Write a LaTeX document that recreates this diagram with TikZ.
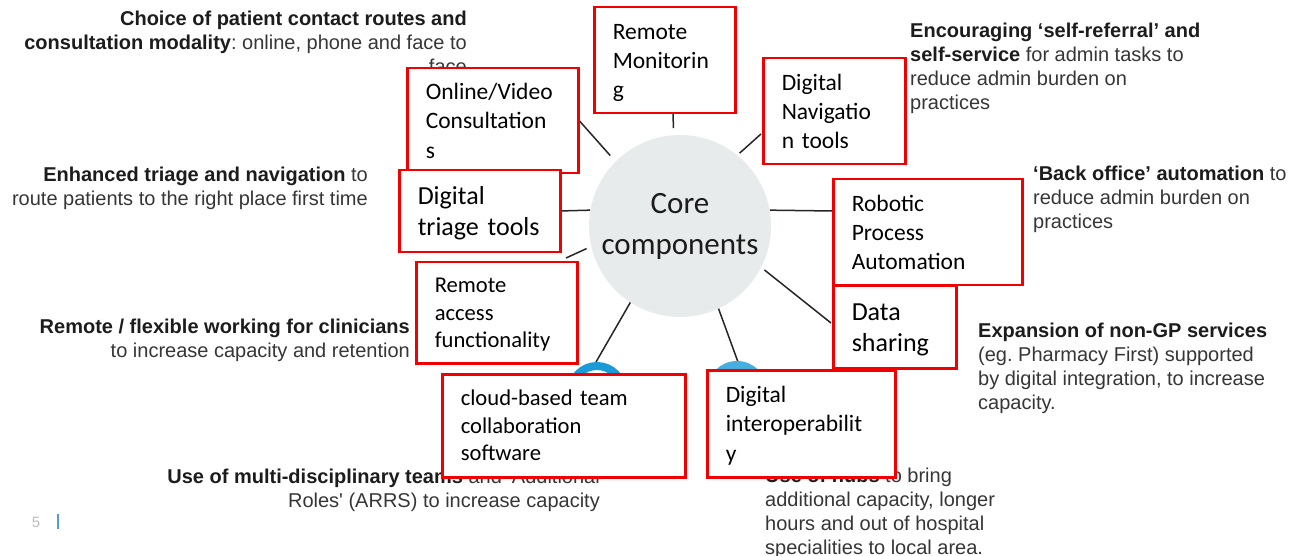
\documentclass[tikz,border=0pt]{standalone}
\usepackage{fontspec}
\setmainfont{Liberation Sans}
\newfontfamily\calibf{Carlito}
\frenchspacing
\definecolor{boxred}{HTML}{F00000}
\definecolor{txtdark}{HTML}{1C1C1C}
\definecolor{txtgrey}{HTML}{363636}
\definecolor{coregrey}{HTML}{E8EBEC}
\definecolor{linegrey}{HTML}{262626}
\definecolor{hubblue}{HTML}{1B9AD6}
\definecolor{hublight}{HTML}{48AEDF}
\definecolor{pagegrey}{HTML}{BDBDBD}
\definecolor{barblue}{HTML}{5B9BD5}
\newcommand\strongtxt[1]{\textcolor{txtdark}{\bfseries #1}}
\newcommand\topstrut{\rule{0pt}{0.86\baselineskip}}
\tikzset{
  side/.style={inner sep=0pt, font=\fontsize{20}{24}\selectfont, text=txtgrey},
  cbox/.style={draw=boxred, line width=2.5pt, fill=white, inner xsep=18.5pt,
    inner ysep=0pt, align=left, anchor=north west, text=black,
    font=\calibf\fontsize{23.5}{29.3}\selectfont},
  bigtxt/.style={font=\calibf\fontsize{26}{31}\selectfont},
  smalltxt/.style={font=\calibf\fontsize{22.6}{27.5}\selectfont},
  conn/.style={draw=linegrey, line width=1.5pt}
}
\begin{document}
\begin{tikzpicture}[x=1pt,y=-1pt]
\useasboundingbox[fill=white] (0,0) rectangle (1291,556);

% side texts (anchor = baseline of the last line)
\node[side, align=right, anchor=base east] (t-choice) at (467,74)
  {\strongtxt{Choice of patient contact routes and}\\\strongtxt{consultation modality}: online, phone and face to\\face};
\node[side, align=right, anchor=base east] (t-triage) at (368,206)
  {\strongtxt{Enhanced triage and navigation} to\\route patients to the right place first time};
\node[side, align=right, anchor=base east] (t-remote) at (410,357)
  {\strongtxt{Remote / flexible working for clinicians}\\to increase capacity and retention};
\node[side, align=right, anchor=base east] (t-mdt) at (600,507)
  {\strongtxt{Use of multi-disciplinary teams} and `Additional\\Roles\textquotesingle{} (ARRS) to increase capacity};
\node[side, align=left, anchor=base west] (t-self) at (910,110)
  {\strongtxt{Encouraging ‘self-referral’ and}\\\strongtxt{self-service} for admin tasks to\\reduce admin burden on\\practices};
\node[side, align=left, anchor=base west] (t-back) at (1033,229)
  {\strongtxt{‘Back office’ automation} to\\reduce admin burden on\\practices};
\node[side, align=left, anchor=base west] (t-exp) at (978,409)
  {\strongtxt{Expansion of non-GP services}\\(eg.\ Pharmacy First) supported\\by digital integration, to increase\\capacity.};
\node[side, align=left, anchor=base west] (t-hubs) at (765,554)
  {\strongtxt{Use of hubs} to bring\\additional capacity, longer\\hours and out of hospital\\specialities to local area.};

% page number
\node[inner sep=0pt, anchor=base, font=\fontsize{15}{18}\selectfont, text=pagegrey] (pg) at (36,527) {5};
\draw[barblue, line width=2pt] (58,514) -- (58,529);

% core circle
\node[circle, fill=coregrey, minimum size=182pt, inner sep=0pt, align=center,
  text=txtdark, font=\calibf\fontsize{31}{41}\selectfont] (core) at (680,226) {Core\\components};

% connector free ends
\coordinate (e-rm) at (673,113);
\coordinate (e-ov) at (576,117);
\coordinate (e-dn) at (761,134);
\coordinate (e-dt) at (559,211);
\coordinate (e-rpa) at (833,211);
\coordinate (e-ra) at (566,258);
\coordinate (e-cl) at (596,362);
\coordinate (e-di) at (738,362);
\coordinate (e-ds) at (831,323);

\draw[conn, shorten <=7pt] (core.94) -- (e-rm);
\draw[conn, shorten <=8pt] (core.135) -- (e-ov);
\draw[conn, shorten <=3pt] (core.51) -- (e-dn);
\draw[conn] (core.170) -- (e-dt);
\draw[conn] (core.10) -- (e-rpa);
\draw[conn, shorten <=5pt] (core.193) -- (e-ra);
\draw[conn] (core.237) -- (e-cl);
\draw[conn] (core.295) -- (e-di);
\draw[conn, shorten <=4pt] (core.333) -- (e-ds);

% hub icons (partly hidden)
\node[circle, draw=hubblue, line width=8pt, minimum size=52pt, inner sep=0pt] (hub1) at (597,392) {};
\node[circle, fill=hublight, minimum size=60pt, inner sep=0pt] (hub2) at (737,391) {};

% red boxes
\node[cbox, text width=104pt, minimum height=106pt] (rm) at (593,6)
  {\mbox{\topstrut Remote}\\\mbox{Monitorin}\\\mbox{g\strut}};
\node[cbox, text width=134pt, minimum height=105pt] (ov) at (406,67)
  {\mbox{\topstrut Online/Video}\\\mbox{Consultation}\\\mbox{s\strut}};
\node[cbox, text width=105pt, minimum height=106pt] (dn) at (762,57)
  {\mbox{\topstrut Digital}\\\mbox{Navigatio}\\\mbox{n tools\strut}};
\node[cbox, bigtxt, text width=124pt, minimum height=82pt] (dt) at (398,169)
  {\mbox{\topstrut Digital}\\\mbox{triage tools\strut}};
\node[cbox, text width=152pt, minimum height=106pt] (rpa) at (832,178)
  {\mbox{\topstrut Robotic}\\\mbox{Process}\\\mbox{Automation\strut}};
\node[cbox, smalltxt, text width=124pt, minimum height=101pt] (ra) at (415,261)
  {\mbox{\topstrut Remote}\\\mbox{access}\\\mbox{functionality\strut}};
\node[cbox, bigtxt, text width=86pt, minimum height=82pt] (ds) at (832,285)
  {\mbox{\topstrut Data}\\\mbox{sharing\strut}};
\node[cbox, smalltxt, text width=206pt, minimum height=103pt] (cl) at (441,373)
  {\mbox{\topstrut cloud-based team}\\\mbox{collaboration}\\\mbox{software\strut}};
\node[cbox, text width=151pt, minimum height=107pt] (di) at (706,369)
  {\mbox{\topstrut Digital}\\\mbox{interoperabilit}\\\mbox{y\strut}};
\end{tikzpicture}
\end{document}
